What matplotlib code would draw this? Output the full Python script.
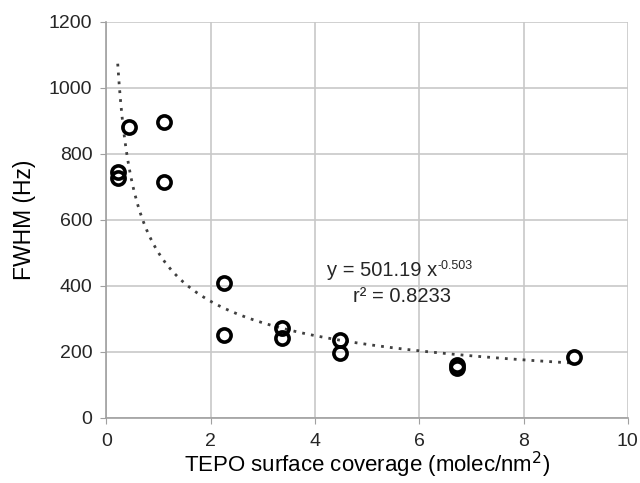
import numpy as np
import matplotlib.pyplot as plt

plt.rcParams['font.family'] = ['Liberation Sans', 'DejaVu Sans']
plt.rcParams['text.color'] = '#262626'

# Messpunkte
coverage = [0.22, 0.22, 0.44, 1.11, 1.11, 2.25, 2.25, 3.37, 3.37, 4.49, 4.49, 6.72, 6.72, 8.97]
fwhm = [746, 726, 883, 898, 716, 410, 250, 272, 241, 237, 197, 160, 152, 186]

# Potenz-Trendlinie
fit_a = 501.19
fit_b = -0.503
fit_r2 = 0.8233

fig = plt.figure(figsize=(6.4, 4.83), dpi=100)
ax = fig.add_axes([0.166, 0.1346, 0.815, 0.82])

xf = np.linspace(min(coverage), max(coverage), 300)
ax.plot(xf, fit_a * xf ** fit_b, color='#404040', linestyle=(0, (1, 2.2)), linewidth=2, zorder=2)

ax.plot(coverage, fwhm, linestyle='none', marker='o', markersize=9.5,
        markerfacecolor='none', markeredgecolor='black', markeredgewidth=2.6, zorder=3)

# Gleichung der Trendlinie
eq = ax.text(4.23, 448, 'y = %.2f x' % fit_a, fontsize=14.5, ha='left', va='center')
ax.annotate('%.3f' % fit_b, xy=(1.0, 0.72), xycoords=eq, fontsize=9,
            ha='left', va='center')
ax.text(4.73, 367, 'r² = %.4f' % fit_r2, fontsize=14.5, ha='left', va='center')

ax.set_xlim(0, 10)
ax.set_ylim(0, 1200)
ax.set_xticks(range(0, 11, 2))
ax.set_yticks(range(0, 1201, 200))
ax.set_xlabel('TEPO surface coverage (molec/nm$^2$)', fontsize=16, labelpad=0)
ax.set_ylabel('FWHM (Hz)', fontsize=16.5, labelpad=9)
ax.tick_params(labelsize=14, color='#a0a0a0', length=4, labelcolor='#262626')
ax.tick_params(axis='x', pad=7)
ax.tick_params(axis='y', pad=6)
ax.grid(True, color='#c8c8c8', linewidth=1.2)
ax.set_axisbelow(True)
for s in ['top', 'right']:
    ax.spines[s].set_visible(False)
for s in ['left', 'bottom']:
    ax.spines[s].set_color('#a0a0a0')
    ax.spines[s].set_linewidth(1.2)

fig.savefig('out.png', dpi=100)
